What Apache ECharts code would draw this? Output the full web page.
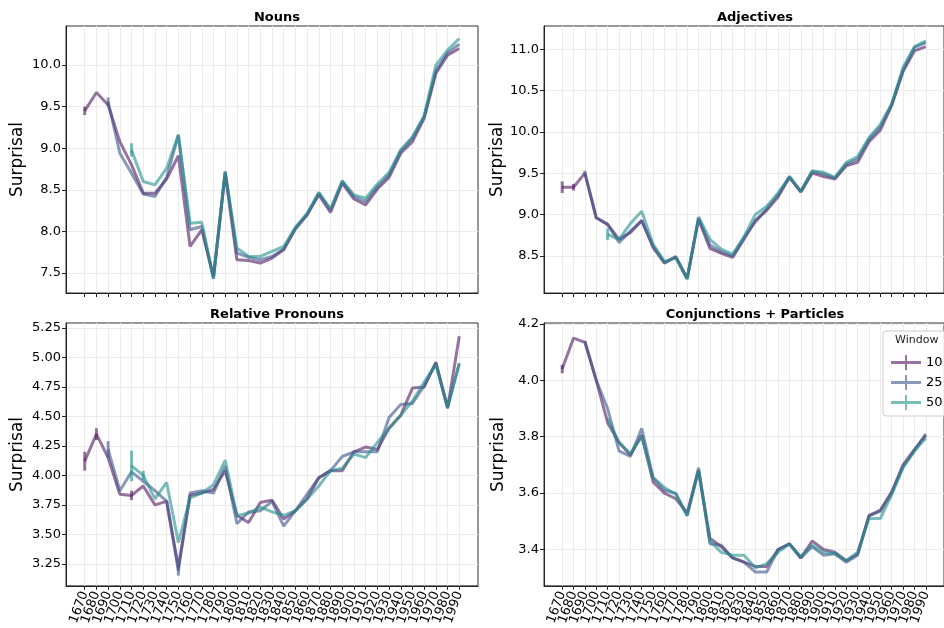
<!DOCTYPE html>
<html>
<head>
<meta charset="utf-8">
<script src="https://cdn.jsdelivr.net/npm/echarts@6/dist/echarts.min.js"></script>
<style>
  html, body { margin: 0; padding: 0; background: #fff; }
  #chart { width: 944px; height: 628px; }
</style>
</head>
<body>
<div id="chart"></div>
<script>
// decades on the x axis
const years = [1670, 1680, 1690, 1700, 1710, 1720, 1730, 1740, 1750, 1760, 1770, 1780, 1790,
  1800, 1810, 1820, 1830, 1840, 1850, 1860, 1870, 1880, 1890, 1900, 1910, 1920, 1930,
  1940, 1950, 1960, 1970, 1980, 1990]
const windows = ['10', '25', '50']

// Nouns (window 10 from 1670, 25 from 1690, 50 from 1710)
const nouns10 = [9.45, 9.67, 9.52, 9.08, 8.8, 8.46, 8.46, 8.63, 8.91, 7.82, 8.02, 7.46, 8.70, 7.66, 7.65, 7.62, 7.68, 7.78, 8.03, 8.2, 8.44, 8.23, 8.58, 8.39, 8.32, 8.51, 8.65, 8.94, 9.08, 9.36, 9.9, 10.12, 10.2]
const nouns25 = [9.56, 8.94, 8.7, 8.45, 8.42, 8.65, 9.16, 8.02, 8.06, 7.43, 8.72, 7.74, 7.69, 7.66, 7.7, 7.79, 8.04, 8.2, 8.46, 8.26, 8.6, 8.42, 8.36, 8.54, 8.68, 8.97, 9.12, 9.38, 9.93, 10.15, 10.25]
const nouns50 = [8.98, 8.6, 8.56, 8.76, 9.16, 8.1, 8.11, 7.44, 8.72, 7.8, 7.7, 7.7, 7.76, 7.82, 8.05, 8.22, 8.47, 8.27, 8.61, 8.44, 8.4, 8.57, 8.71, 8.98, 9.14, 9.39, 10.0, 10.18, 10.32]

// Adjectives
const adj10 = [9.33, 9.33, 9.5, 8.96, 8.88, 8.7, 8.78, 8.93, 8.6, 8.41, 8.49, 8.23, 8.94, 8.59, 8.53, 8.48, 8.7, 8.93, 9.05, 9.21, 9.45, 9.27, 9.5, 9.46, 9.43, 9.59, 9.63, 9.88, 10.02, 10.32, 10.73, 10.98, 11.03]
const adj25 = [9.5, 8.96, 8.88, 8.66, 8.8, 8.92, 8.62, 8.42, 8.48, 8.22, 8.96, 8.63, 8.55, 8.5, 8.72, 8.91, 9.07, 9.24, 9.45, 9.28, 9.52, 9.49, 9.44, 9.61, 9.67, 9.91, 10.06, 10.33, 10.75, 11.02, 11.08]
const adj50 = [8.76, 8.7, 8.89, 9.04, 8.64, 8.43, 8.48, 8.22, 8.97, 8.7, 8.58, 8.52, 8.73, 9.0, 9.1, 9.26, 9.46, 9.28, 9.53, 9.51, 9.45, 9.63, 9.7, 9.93, 10.09, 10.34, 10.78, 11.03, 11.1]

// Relative Pronouns
const rel10 = [4.12, 4.35, 4.15, 3.84, 3.83, 3.91, 3.75, 3.78, 3.22, 3.83, 3.85, 3.88, 4.04, 3.66, 3.6, 3.77, 3.79, 3.63, 3.7, 3.8, 3.98, 4.04, 4.04, 4.2, 4.24, 4.22, 4.4, 4.51, 4.74, 4.75, 4.96, 4.57, 5.18]
const rel25 = [4.22, 3.87, 4.03, 3.95, 3.87, 3.78, 3.19, 3.85, 3.87, 3.85, 4.08, 3.59, 3.69, 3.7, 3.78, 3.57, 3.7, 3.84, 3.98, 4.04, 4.16, 4.2, 4.2, 4.2, 4.49, 4.6, 4.61, 4.76, 4.95, 4.58, 4.95]
const rel50 = [4.08, 4.0, 3.8, 3.94, 3.43, 3.81, 3.85, 3.92, 4.13, 3.66, 3.68, 3.73, 3.69, 3.66, 3.7, 3.8, 3.91, 4.04, 4.06, 4.18, 4.15, 4.28, 4.4, 4.51, 4.63, 4.79, 4.94, 4.57, 4.95]

// Conjunctions + Particles
const conj10 = [4.04, 4.15, 4.135, 4.0, 3.85, 3.78, 3.735, 3.805, 3.64, 3.6, 3.58, 3.53, 3.68, 3.44, 3.41, 3.37, 3.355, 3.34, 3.34, 3.4, 3.42, 3.37, 3.43, 3.4, 3.39, 3.36, 3.385, 3.52, 3.54, 3.605, 3.7, 3.755, 3.805]
const conj25 = [4.14, 4.0, 3.9, 3.75, 3.73, 3.83, 3.655, 3.61, 3.6, 3.52, 3.69, 3.42, 3.415, 3.37, 3.355, 3.32, 3.32, 3.4, 3.42, 3.37, 3.41, 3.38, 3.385, 3.355, 3.38, 3.52, 3.535, 3.6, 3.695, 3.75, 3.81]
const conj50 = [3.865, 3.78, 3.74, 3.8, 3.655, 3.62, 3.595, 3.52, 3.68, 3.43, 3.39, 3.38, 3.38, 3.335, 3.35, 3.39, 3.42, 3.375, 3.415, 3.39, 3.385, 3.36, 3.39, 3.51, 3.51, 3.595, 3.69, 3.75, 3.795]

// visible error bars: [year, half width]
const nounsErr10 = [[1670, 0.05]]
const nounsErr25 = [[1690, 0.05]]
const nounsErr50 = [[1710, 0.08]]
const adjErr10 = [[1670, 0.07], [1680, 0.04]]
const adjErr25 = [[1690, 0.03]]
const adjErr50 = [[1710, 0.07]]
const relErr10 = [[1670, 0.08], [1680, 0.05], [1710, 0.04]]
const relErr25 = [[1690, 0.07], [1750, 0.04]]
const relErr50 = [[1710, 0.13], [1720, 0.04]]
const conjErr10 = [[1670, 0.015]]
const conjErr25 = []
const conjErr50 = []

// y tick labels per panel
const nounsTicks = [7.5, 8.0, 8.5, 9.0, 9.5, 10.0]
const adjTicks = [8.5, 9.0, 9.5, 10.0, 10.5, 11.0]
const relTicks = [3.25, 3.5, 3.75, 4.0, 4.25, 4.5, 4.75, 5.0, 5.25]
const conjTicks = [3.4, 3.6, 3.8, 4.0, 4.2]

const panels = [
  { title: 'Nouns', series: [nouns10, nouns25, nouns50], errs: [nounsErr10, nounsErr25, nounsErr50], ticks: nounsTicks, digits: 1, min: 7.26, max: 10.47 },
  { title: 'Adjectives', series: [adj10, adj25, adj50], errs: [adjErr10, adjErr25, adjErr50], ticks: adjTicks, digits: 1, min: 8.05, max: 11.28 },
  { title: 'Relative Pronouns', series: [rel10, rel25, rel50], errs: [relErr10, relErr25, relErr50], ticks: relTicks, digits: 2, min: 3.063, max: 5.292 },
  { title: 'Conjunctions + Particles', series: [conj10, conj25, conj50], errs: [conjErr10, conjErr25, conjErr50], ticks: conjTicks, digits: 1, min: 3.271, max: 4.2035 }
]

const colors = ['#50185f', '#3b528b', '#21918c']
const font = 'DejaVu Sans'
const grids = [
  { left: 66, top: 26, width: 412, height: 267 },
  { left: 544, top: 26, width: 412, height: 267 },
  { left: 66, top: 323, width: 412, height: 266 },
  { left: 544, top: 323, width: 412, height: 266 }
]

const chart = echarts.init(document.getElementById('chart'))

const option = {
  backgroundColor: '#fff',
  animation: false,
  textStyle: { fontFamily: font },
  title: [],
  grid: [],
  xAxis: [],
  yAxis: [],
  series: [],
  legend: {
    data: windows,
    orient: 'vertical',
    left: 883,
    top: 331,
    padding: [24, 8, 6, 8],
    itemGap: 5,
    itemWidth: 30,
    itemHeight: 15,
    icon: 'path://M0,6H30V9H0Z M14,0H16V15H14Z',
    itemStyle: { opacity: 0.6 },
    backgroundColor: 'rgba(255,255,255,0.85)',
    borderColor: '#cccccc',
    borderWidth: 1,
    borderRadius: 3,
    textStyle: { fontSize: 13, color: '#000', fontFamily: font }
  },
  graphic: [{
    type: 'text',
    left: 895,
    top: 335,
    z: 200,
    zlevel: 1,
    style: { text: 'Window', fontSize: 11, fill: '#222', fontFamily: font }
  }]
}

// x tick labels split over three axes so that none of them gets hidden
function labelAxis(i, vals, show) {
  return {
    type: 'value',
    gridIndex: i,
    position: 'bottom',
    offset: 0,
    min: 1654,
    max: 2006,
    axisLine: { show: false },
    axisTick: { show: false },
    splitLine: { show: false },
    axisLabel: {
      show: show,
      customValues: vals,
      rotate: 70,
      fontSize: 13,
      color: '#000',
      margin: 6,
      hideOverlap: false,
      fontFamily: font,
      formatter: v => String(v)
    }
  }
}

const xAxisOf = []
panels.forEach((p, i) => {
  const g = grids[i]
  option.grid.push(Object.assign({ show: true, borderColor: '#333', borderWidth: 1, backgroundColor: '#fff' }, g))
  option.title.push({
    text: p.title,
    left: g.left + g.width / 2,
    top: g.top - 20,
    textAlign: 'center',
    textStyle: { fontSize: 13, fontWeight: 'bold', color: '#000', fontFamily: font }
  })
  const bottom = i >= 2
  xAxisOf.push(option.xAxis.length)
  option.xAxis.push({
    type: 'value',
    gridIndex: i,
    position: 'bottom',
    min: 1654,
    max: 2006,
    axisLine: { show: true, lineStyle: { color: '#222', width: 1 } },
    axisTick: { show: true, customValues: years, length: 4, lineStyle: { color: '#222' } },
    axisLabel: { show: false },
    splitLine: { show: true, lineStyle: { color: '#ebebeb', width: 1 } }
  })
  for (let r = 0; r < 3; r++) {
    option.xAxis.push(labelAxis(i, years.filter((y, j) => j % 3 === r), bottom))
  }
  option.yAxis.push({
    type: 'value',
    gridIndex: i,
    min: p.min,
    max: p.max,
    name: 'Surprisal',
    nameLocation: 'middle',
    nameGap: i % 2 === 0 ? 40 : 37,
    nameTextStyle: { fontSize: 17, color: '#000', fontFamily: font },
    axisLine: { show: true, lineStyle: { color: '#222', width: 1 } },
    axisTick: { show: true, customValues: p.ticks, length: 4, lineStyle: { color: '#222' } },
    axisLabel: {
      customValues: p.ticks,
      fontSize: 13,
      color: '#000',
      margin: 5,
      fontFamily: font,
      formatter: v => v.toFixed(p.digits)
    },
    splitLine: { show: true, lineStyle: { color: '#ebebeb', width: 1 } }
  })
})

panels.forEach((p, i) => {
  p.series.forEach((vals, k) => {
    const offset = years.length - vals.length
    const pts = vals.map((v, j) => [years[j + offset], v])
    option.series.push({
      name: windows[k],
      type: 'line',
      xAxisIndex: xAxisOf[i],
      yAxisIndex: i,
      data: pts,
      showSymbol: false,
      symbol: 'none',
      color: colors[k],
      lineStyle: { width: 3, opacity: 0.6, color: colors[k] },
      z: 2 + k
    })
    const errData = p.errs[k].map(e => {
      const j = years.indexOf(e[0]) - offset
      return [e[0], vals[j], e[1]]
    })
    option.series.push({
      name: windows[k],
      type: 'custom',
      xAxisIndex: xAxisOf[i],
      yAxisIndex: i,
      data: errData,
      z: 2 + k,
      renderItem: (params, api) => {
        const x = api.value(0)
        const y = api.value(1)
        const e = api.value(2)
        const a = api.coord([x, y - e])
        const b = api.coord([x, y + e])
        return {
          type: 'line',
          shape: { x1: a[0], y1: a[1], x2: b[0], y2: b[1] },
          style: { stroke: colors[k], lineWidth: 3, opacity: 0.6 }
        }
      }
    })
  })
})

chart.setOption(option)
</script>
</body>
</html>
